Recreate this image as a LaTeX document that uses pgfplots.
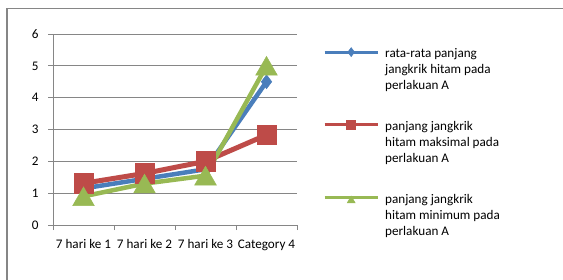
\documentclass[border=0pt]{standalone}
\usepackage{pgfplots}
\pgfplotsset{compat=1.18}
\usepackage{fontspec}
\setmainfont{Carlito}
\definecolor{xblue}{HTML}{4A7EBB}
\definecolor{xred}{HTML}{BE4B48}
\definecolor{xgreen}{HTML}{98B954}
\definecolor{xgray}{HTML}{868686}
\begin{document}
\begin{tikzpicture}[x=1bp,y=1bp]
\useasboundingbox (0,0) rectangle (563,279);
\draw[xgray, line width=1.5bp] (7,-5) -- (7,270.5) -- (575,270.5);
\begin{axis}[
  at={(53bp,54bp)}, anchor=south west,
  scale only axis, width=244bp, height=191bp,
  xmin=0, xmax=4, ymin=0, ymax=6,
  ytick={0,1,2,3,4,5,6},
  xtick={0,1,2,3,4}, xticklabels={},
  extra x ticks={0.5,1.5,2.5,3.5},
  extra x tick labels={7 hari ke 1,7 hari ke 2,7 hari ke 3,Category 4},
  extra x tick style={major tick length=0pt, grid=none},
  axis x line*=bottom, axis y line*=left,
  axis line style={xgray, line width=1bp},
  tick style={xgray, line width=1bp},
  tick align=outside, major tick length=5bp,
  ymajorgrids, grid style={xgray, line width=1bp},
  /pgf/number format/assume math mode=true,
  tick label style={font=\fontsize{13.2}{15}\selectfont, black},
  xticklabel style={yshift=-11bp},
  yticklabel style={xshift=-6bp},
  clip=false,
  legend style={at={(1.1065,0.935)}, anchor=north west, draw=none, fill=none,
    inner sep=0pt, row sep=26bp, column sep=4bp,
    cells={anchor=north west, inner sep=0pt, align=left},
    font=\fontsize{13.2}{16}\selectfont},
  legend image code/.code={\draw[mark repeat=2, mark phase=2, #1, line width=3bp, mark size=4.5bp, yshift=-5.5bp]
     plot coordinates {(0bp,0bp) (26.5bp,0bp) (53bp,0bp)};},
]
\addplot[xblue, line width=4.5bp, mark=diamond*, mark size=7bp, mark options={line width=0.5bp}]
  coordinates {(0.5,1.15) (1.5,1.45) (2.5,1.75) (3.5,4.5)};
\addlegendentry{rata-rata panjang\\jangkrik hitam pada\\perlakuan A}
\addplot[xred, line width=5bp, mark=square*, mark size=9.75bp, mark options={line width=0.5bp}]
  coordinates {(0.5,1.31) (1.5,1.62) (2.5,2.0) (3.5,2.83)};
\addlegendentry{panjang jangkrik\\hitam maksimal pada\\perlakuan A}
\addplot[xgreen, line width=4.5bp, mark=triangle*, mark size=12.5bp, mark options={line width=0.5bp, yshift=-3.1bp}]
  coordinates {(0.5,0.9) (1.5,1.3) (2.5,1.55) (3.5,5.0)};
\addlegendentry{panjang jangkrik\\hitam minimum pada\\perlakuan A}
\end{axis}
\end{tikzpicture}
\end{document}
